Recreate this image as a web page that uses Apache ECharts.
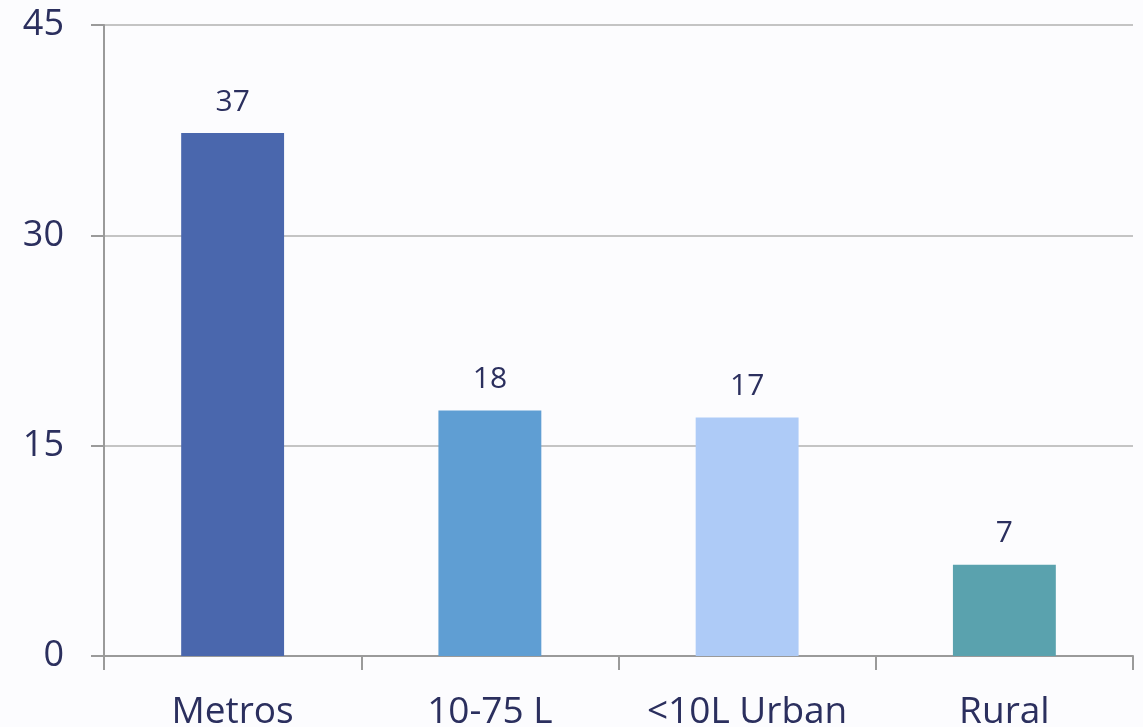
<!DOCTYPE html>
<html><head><meta charset="utf-8">
<script src="https://cdn.jsdelivr.net/npm/echarts@6/dist/echarts.min.js"></script>
<style>html,body{margin:0;padding:0;background:#fcfcfe;}#c{width:1143px;height:727px;}</style>
</head><body><div id="c"></div>
<script>
const categories = ['Metros', '10-75 L', '<10L Urban', 'Rural'];
const values = [37.3, 17.5, 17.0, 6.5];
const barColors = ['#4a67ad', '#5f9ed3', '#aecbf7', '#5aa2ae'];
const yTicks = [0, 15, 30, 45];

const chart = echarts.init(document.getElementById('c'));
const textColor = '#2b2f5e';
chart.setOption({
  backgroundColor: '#fcfcfe',
  animation: false,
  grid: {left: 104, right: 10, top: 25, bottom: 71, containLabel: false, outerBoundsMode: 'none'},
  xAxis: {
    type: 'category', data: categories,
    axisLine: {lineStyle: {color: '#9a9a9a', width: 2}},
    axisTick: {show: true, length: 14, lineStyle: {color: '#9a9a9a', width: 2}},
    axisLabel: {color: textColor, fontFamily: 'Open Sans', fontSize: 37, margin: 38, interval: 0, hideOverlap: false}
  },
  yAxis: {
    type: 'value', min: yTicks[0], max: yTicks[yTicks.length - 1], interval: 15,
    axisLine: {show: true, lineStyle: {color: '#9a9a9a', width: 2}},
    axisTick: {show: true, length: 13, lineStyle: {color: '#9a9a9a', width: 2}},
    splitLine: {lineStyle: {color: '#c4c4c4', width: 2}},
    axisLabel: {color: textColor, fontFamily: 'Open Sans', fontSize: 36, margin: 40}
  },
  series: [{
    type: 'bar', barWidth: '40%',
    data: values.map((v, i) => ({value: v, itemStyle: {color: barColors[i]}})),
    label: {show: true, position: 'top', distance: 16, color: textColor,
      fontFamily: 'Open Sans', fontSize: 30,
      formatter: p => Math.round(p.value)}
  }]
});
</script></body></html>
